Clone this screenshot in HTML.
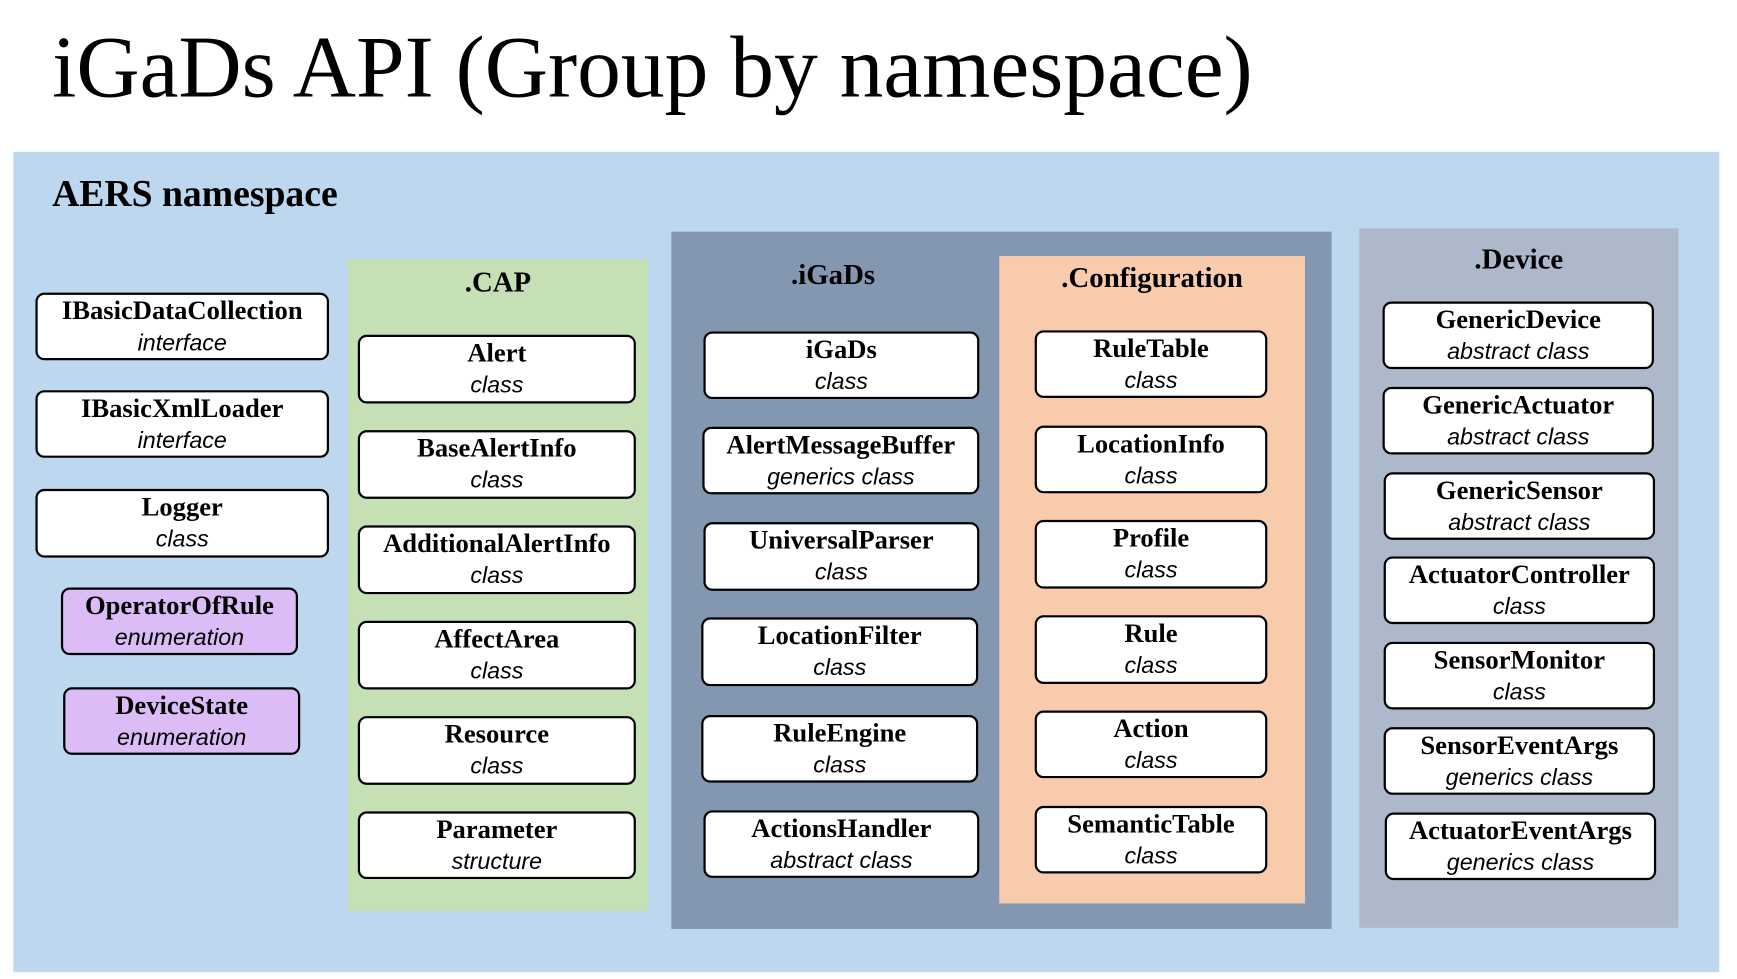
<!DOCTYPE html>
<html><head><meta charset="utf-8"><style>
html,body{margin:0;padding:0;background:#fff;overflow:hidden;}
#w{position:absolute;left:0;top:0;width:1560px;height:880px;transform:scale(1.1078,1.1085);transform-origin:0 0;font-family:"Liberation Serif",serif;}
.a{position:absolute;}
.t{position:absolute;left:47px;top:22px;font-size:79px;white-space:nowrap;line-height:1;}
.p{position:absolute;}
.h{position:absolute;left:0;right:0;text-align:center;font-weight:bold;font-size:26px;}
.b{position:absolute;background:#fff;border:2px solid #000;border-radius:8px;box-sizing:border-box;text-align:center;}
.b .n{font-weight:bold;font-size:24px;line-height:28px;margin-top:1px;white-space:nowrap;}
.b .k{font-family:"Liberation Sans",sans-serif;font-style:italic;font-size:21px;line-height:30px;white-space:nowrap;}
.e{background:#dcbcf7;}
</style></head><body><div id="w">
<div class="t">iGaDs API (Group by namespace)</div>
<div class="a" style="left:12px;top:137px;width:1540px;height:740px;background:#bdd7ee"></div>
<div class="a" style="left:47px;top:157px;font-weight:bold;font-size:34px;">AERS namespace</div>

<div class="b" style="left:32px;top:264px;width:265px;height:61px"><div class="n">IBasicDataCollection</div><div class="k">interface</div></div>
<div class="b" style="left:32px;top:352px;width:265px;height:61px"><div class="n">IBasicXmlLoader</div><div class="k">interface</div></div>
<div class="b" style="left:32px;top:441px;width:265px;height:62px"><div class="n">Logger</div><div class="k">class</div></div>
<div class="b e" style="left:55px;top:530px;width:214px;height:61px"><div class="n">OperatorOfRule</div><div class="k">enumeration</div></div>
<div class="b e" style="left:57px;top:620px;width:214px;height:61px"><div class="n">DeviceState</div><div class="k">enumeration</div></div>

<div class="p" style="left:314px;top:234px;width:271px;height:588px;background:#c5e0b4"><div class="h" style="top:6px">.CAP</div></div>
<div class="b" style="left:323px;top:302px;width:251px;height:62px"><div class="n">Alert</div><div class="k">class</div></div>
<div class="b" style="left:323px;top:388px;width:251px;height:62px"><div class="n">BaseAlertInfo</div><div class="k">class</div></div>
<div class="b" style="left:323px;top:474px;width:251px;height:62px"><div class="n">AdditionalAlertInfo</div><div class="k">class</div></div>
<div class="b" style="left:323px;top:560px;width:251px;height:62px"><div class="n">AffectArea</div><div class="k">class</div></div>
<div class="b" style="left:323px;top:646px;width:251px;height:62px"><div class="n">Resource</div><div class="k">class</div></div>
<div class="b" style="left:323px;top:732px;width:251px;height:61px"><div class="n">Parameter</div><div class="k">structure</div></div>

<div class="p" style="left:606px;top:209px;width:596px;height:629px;background:#8497b0"><div class="h" style="left:0;width:292px;top:24px">.iGaDs</div></div>
<div class="b" style="left:635px;top:299px;width:249px;height:61px"><div class="n">iGaDs</div><div class="k">class</div></div>
<div class="b" style="left:634px;top:385px;width:250px;height:61px"><div class="n">AlertMessageBuffer</div><div class="k">generics class</div></div>
<div class="b" style="left:635px;top:471px;width:249px;height:62px"><div class="n">UniversalParser</div><div class="k">class</div></div>
<div class="b" style="left:633px;top:557px;width:250px;height:62px"><div class="n">LocationFilter</div><div class="k">class</div></div>
<div class="b" style="left:633px;top:645px;width:250px;height:61px"><div class="n">RuleEngine</div><div class="k">class</div></div>
<div class="b" style="left:635px;top:731px;width:249px;height:61px"><div class="n">ActionsHandler</div><div class="k">abstract class</div></div>

<div class="p" style="left:902px;top:231px;width:276px;height:584px;background:#f8cbad"><div class="h" style="top:5px">.Configuration</div></div>
<div class="b" style="left:934px;top:298px;width:210px;height:61px"><div class="n">RuleTable</div><div class="k">class</div></div>
<div class="b" style="left:934px;top:384px;width:210px;height:61px"><div class="n">LocationInfo</div><div class="k">class</div></div>
<div class="b" style="left:934px;top:469px;width:210px;height:62px"><div class="n">Profile</div><div class="k">class</div></div>
<div class="b" style="left:934px;top:555px;width:210px;height:62px"><div class="n">Rule</div><div class="k">class</div></div>
<div class="b" style="left:934px;top:641px;width:210px;height:61px"><div class="n">Action</div><div class="k">class</div></div>
<div class="b" style="left:934px;top:727px;width:210px;height:61px"><div class="n">SemanticTable</div><div class="k">class</div></div>

<div class="p" style="left:1227px;top:206px;width:288px;height:631px;background:#adb9ca"><div class="h" style="top:13px">.Device</div></div>
<div class="b" style="left:1248px;top:272px;width:245px;height:61px"><div class="n">GenericDevice</div><div class="k">abstract class</div></div>
<div class="b" style="left:1248px;top:349px;width:245px;height:61px"><div class="n">GenericActuator</div><div class="k">abstract class</div></div>
<div class="b" style="left:1249px;top:426px;width:245px;height:61px"><div class="n">GenericSensor</div><div class="k">abstract class</div></div>
<div class="b" style="left:1249px;top:502px;width:245px;height:61px"><div class="n">ActuatorController</div><div class="k">class</div></div>
<div class="b" style="left:1249px;top:579px;width:245px;height:61px"><div class="n">SensorMonitor</div><div class="k">class</div></div>
<div class="b" style="left:1249px;top:656px;width:245px;height:61px"><div class="n">SensorEventArgs</div><div class="k">generics class</div></div>
<div class="b" style="left:1250px;top:733px;width:245px;height:61px"><div class="n">ActuatorEventArgs</div><div class="k">generics class</div></div>
</div></body></html>
